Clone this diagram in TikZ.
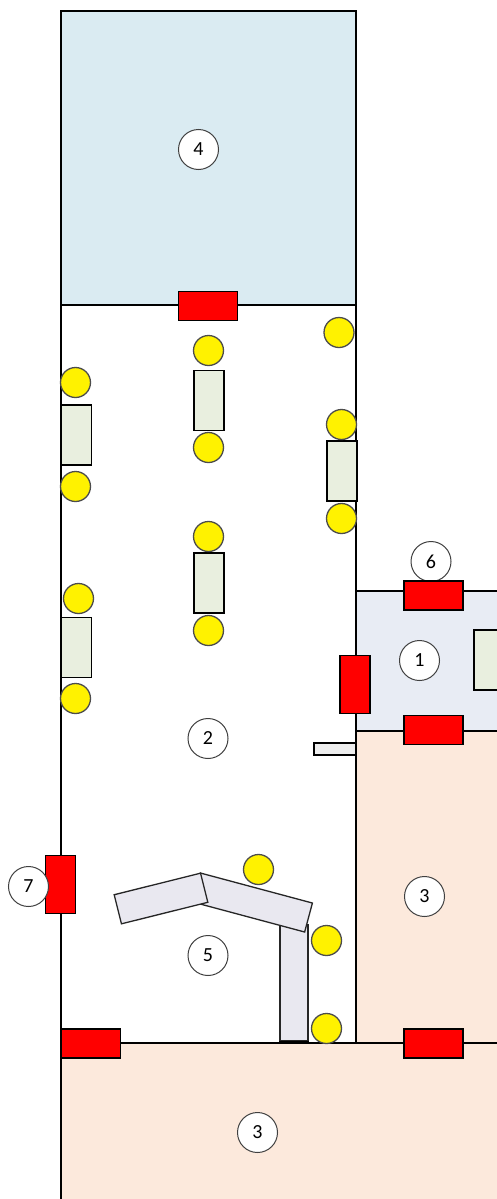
\documentclass[tikz,border=0pt]{standalone}
\usepackage{fontspec}
\setmainfont{Carlito}
\usepackage{xcolor}
\definecolor{roomblue}{HTML}{DAEBF2}
\definecolor{roomgrey}{HTML}{E8ECF4}
\definecolor{roompeach}{HTML}{FCE9DC}
\definecolor{tablegreen}{HTML}{E9EFDF}
\definecolor{benchgrey}{HTML}{E9E8F0}
\begin{document}
\begin{tikzpicture}[x=0.5pt, y=-0.5pt, line width=0.65pt,
                   room/.style={draw=black},
                   doorh/.style={draw=black, fill=red, inner sep=0pt, minimum width=29.5pt, minimum height=14.5pt},
                   doorv/.style={draw=black, fill=red, inner sep=0pt, minimum width=15pt, minimum height=29pt},
                   tablebox/.style={draw=black, fill=tablegreen, inner sep=0pt, minimum width=15pt, minimum height=30pt},
                   lamp/.style={circle, draw=black!70, fill=yellow, inner sep=0pt, minimum size=15pt},
                   bench/.style={draw=black!85, fill=benchgrey, inner sep=0pt, minimum height=15pt},
                   number/.style={circle, draw=black!75, line width=0.5pt, fill=white, inner sep=0pt, minimum size=20pt, font=\fontsize{10}{12}\selectfont}]
          \clip (0,0) rectangle (497,1199);
          \draw[room, fill=roomblue] (61,11) rectangle (356,305);
          \draw[room, fill=white] (61,305) rectangle (356,1043);
          \draw[room, fill=roomgrey] (356,591) rectangle (530,731);
          \draw[room, fill=roompeach] (356,731) rectangle (530,1043);
          \draw[room, fill=roompeach] (61,1043) rectangle (530,1230);
          \draw[room, fill=black!7] (314,743) rectangle (356,755);

          \node[number] (n6) at (431,561.5) {6};

          \node[doorh] (door1) at (208,306) {};
          \node[doorh] (door2) at (433.5,595.5) {};
          \node[doorv] (door3) at (355,684.5) {};
          \node[doorh] (door4) at (433.5,730) {};
          \node[doorv] (door5) at (60.5,884.5) {};
          \node[doorh] (door6) at (91,1043.5) {};
          \node[doorh] (door7) at (433.5,1043.5) {};

          \node[tablebox] (table1) at (76.5,435) {};
          \node[tablebox] (table2) at (209,400.5) {};
          \node[tablebox] (table3) at (342,471) {};
          \node[tablebox] (table4) at (209,583) {};
          \node[tablebox] (table5) at (76.5,647.5) {};
          \node[tablebox] (table6) at (489,660) {};

          \node[bench, minimum width=14pt, minimum height=58pt] (bench3) at (294,983) {};
          \draw[line width=1pt] (bench3.south west) -- (bench3.south east);
          \node[bench, minimum width=58pt, rotate=-15] (bench2) at (252.5,902.5) {};
          \node[bench, minimum width=44.5pt, rotate=14] (bench1) at (161,898.5) {};

          \node[lamp] (lamp1) at (339,332.5) {};
          \node[lamp] (lamp2) at (208.5,350.5) {};
          \node[lamp] (lamp3) at (75.5,382.5) {};
          \node[lamp] (lamp4) at (341.5,424.5) {};
          \node[lamp] (lamp5) at (208.5,447.5) {};
          \node[lamp] (lamp6) at (75.5,486.5) {};
          \node[lamp] (lamp7) at (341.5,518.5) {};
          \node[lamp] (lamp8) at (208.5,536.5) {};
          \node[lamp] (lamp9) at (78.5,598.5) {};
          \node[lamp] (lamp10) at (208.5,630.5) {};
          \node[lamp] (lamp11) at (75.5,698.5) {};
          \node[lamp] (lamp12) at (258.5,869.5) {};
          \node[lamp] (lamp13) at (326.5,940.5) {};
          \node[lamp] (lamp14) at (326.5,1028.5) {};

          \node[number] (n4) at (198.5,149.5) {4};
          \node[number] (n1) at (419.5,660.5) {1};
          \node[number] (n2) at (208,738.5) {2};
          \node[number] (n3a) at (424.5,896.5) {3};
          \node[number] (n7) at (28.5,886.5) {7};
          \node[number] (n5) at (208,955.5) {5};
          \node[number] (n3b) at (257.5,1132.5) {3};
        \end{tikzpicture}
\end{document}
